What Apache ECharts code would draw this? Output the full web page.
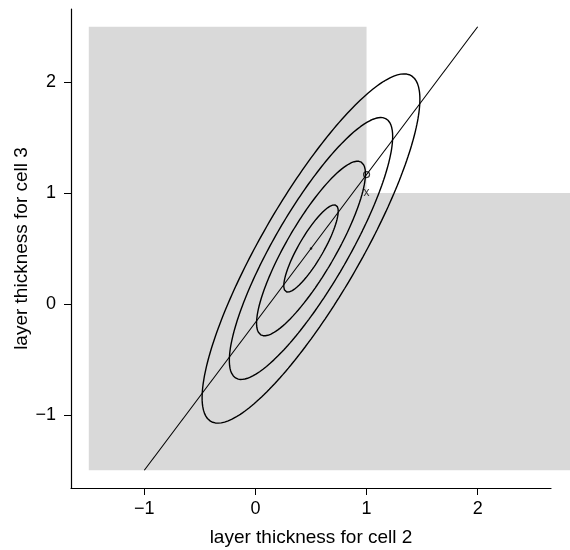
<!DOCTYPE html>
<html>
<head>
<meta charset="utf-8">
<script src="https://cdn.jsdelivr.net/npm/echarts@6/dist/echarts.min.js"></script>
<style>
  html, body { margin: 0; padding: 0; background: #fff; }
  #chart { width: 570px; height: 550px; }
</style>
</head>
<body>
<div id="chart"></div>
<script>
// axis
const xRange = [-1.66, 2.66]
const yRange = [-1.66, 2.66]
const tickValues = [-1, 0, 1, 2]

// shaded region (L shape, runs past the right axis end)
const shadeX = [-1.5, 1, 1, 2.84, 2.84, -1.5]
const shadeY = [2.5, 2.5, 1, 1, -1.5, -1.5]

// contour ellipses: centre, sd, correlation, scale levels
const center = [0.5, 0.5]
const sd = [0.98, 1.575]
const rho = 0.855
const levels = [0.25, 0.5, 0.75, 1]

// straight line
const lineX = [-1, 2]
const lineY = [-1.5, 2.5]

// marked points
const circlePt = [1, 1.167]
const crossPt = [1, 1.0]

function ellipse(k) {
    const pts = []
    const n = 240
    for (let i = 0; i <= n; i++) {
        const t = 2 * Math.PI * i / n
        const u = Math.cos(t), v = Math.sin(t)
        const x = center[0] + k * sd[0] * u
        const y = center[1] + k * sd[1] * (rho * u + Math.sqrt(1 - rho * rho) * v)
        pts.push([x, y])
    }
    return pts
}

const font = 'Liberation Sans, Arial, Helvetica, sans-serif'

const chart = echarts.init(document.getElementById('chart'))

const series = [
    {
        type: 'custom',
        clip: false,
        silent: true,
        data: [0],
        renderItem: (params, api) => {
            const pts = shadeX.map((x, i) => api.coord([x, shadeY[i]]))
            return {
                type: 'polygon',
                shape: { points: pts },
                style: { fill: '#d9d9d9', stroke: null }
            }
        },
        z: 1
    },
    {
        type: 'line',
        data: lineX.map((x, i) => [x, lineY[i]]),
        showSymbol: false,
        lineStyle: { color: '#000', width: 1.1 },
        z: 3
    }
]

levels.forEach(k => {
    series.push({
        type: 'line',
        data: ellipse(k),
        showSymbol: false,
        smooth: false,
        lineStyle: { color: '#000', width: 1.4 },
        z: 3
    })
})

series.push({
    type: 'scatter',
    data: [center],
    symbol: 'circle',
    symbolSize: 2.5,
    itemStyle: { color: '#000' },
    z: 4
})
series.push({
    type: 'scatter',
    data: [circlePt],
    symbol: 'circle',
    symbolSize: 6,
    itemStyle: { color: 'none', borderColor: '#000', borderWidth: 1.2 },
    z: 4
})
series.push({
    type: 'scatter',
    data: [crossPt],
    symbolSize: 1,
    itemStyle: { color: 'rgba(0,0,0,0)' },
    label: {
        show: true,
        position: 'inside',
        formatter: 'x',
        color: '#000',
        fontSize: 12,
        fontFamily: font
    },
    z: 4
})

const axisCommon = {
    type: 'value',
    splitLine: { show: false },
    axisLine: { show: true, onZero: false, lineStyle: { color: '#000', width: 1.2 } },
    axisTick: { show: true, customValues: tickValues, length: 7, lineStyle: { color: '#000', width: 1 } },
    axisLabel: {
        customValues: tickValues,
        color: '#000',
        fontSize: 18,
        fontFamily: font,
        formatter: v => (v < 0 ? '\u2212' + Math.abs(v) : String(v))
    },
    nameLocation: 'middle',
    nameMoveOverlap: false,
    nameTextStyle: { color: '#000', fontSize: 19, fontFamily: font }
}

chart.setOption({
    animation: false,
    backgroundColor: '#fff',
    grid: { left: 71, right: 19, top: 9, bottom: 62, outerBoundsMode: 'none', containLabel: false },
    xAxis: Object.assign({}, axisCommon, {
        min: xRange[0], max: xRange[1],
        name: 'layer thickness for cell 2',
        nameGap: 40,
        axisLabel: Object.assign({}, axisCommon.axisLabel, { margin: 12 })
    }),
    yAxis: Object.assign({}, axisCommon, {
        min: yRange[0], max: yRange[1],
        name: 'layer thickness for cell 3',
        nameGap: 40,
        axisLabel: Object.assign({}, axisCommon.axisLabel, { margin: 15 })
    }),
    series
})
</script>
</body>
</html>
